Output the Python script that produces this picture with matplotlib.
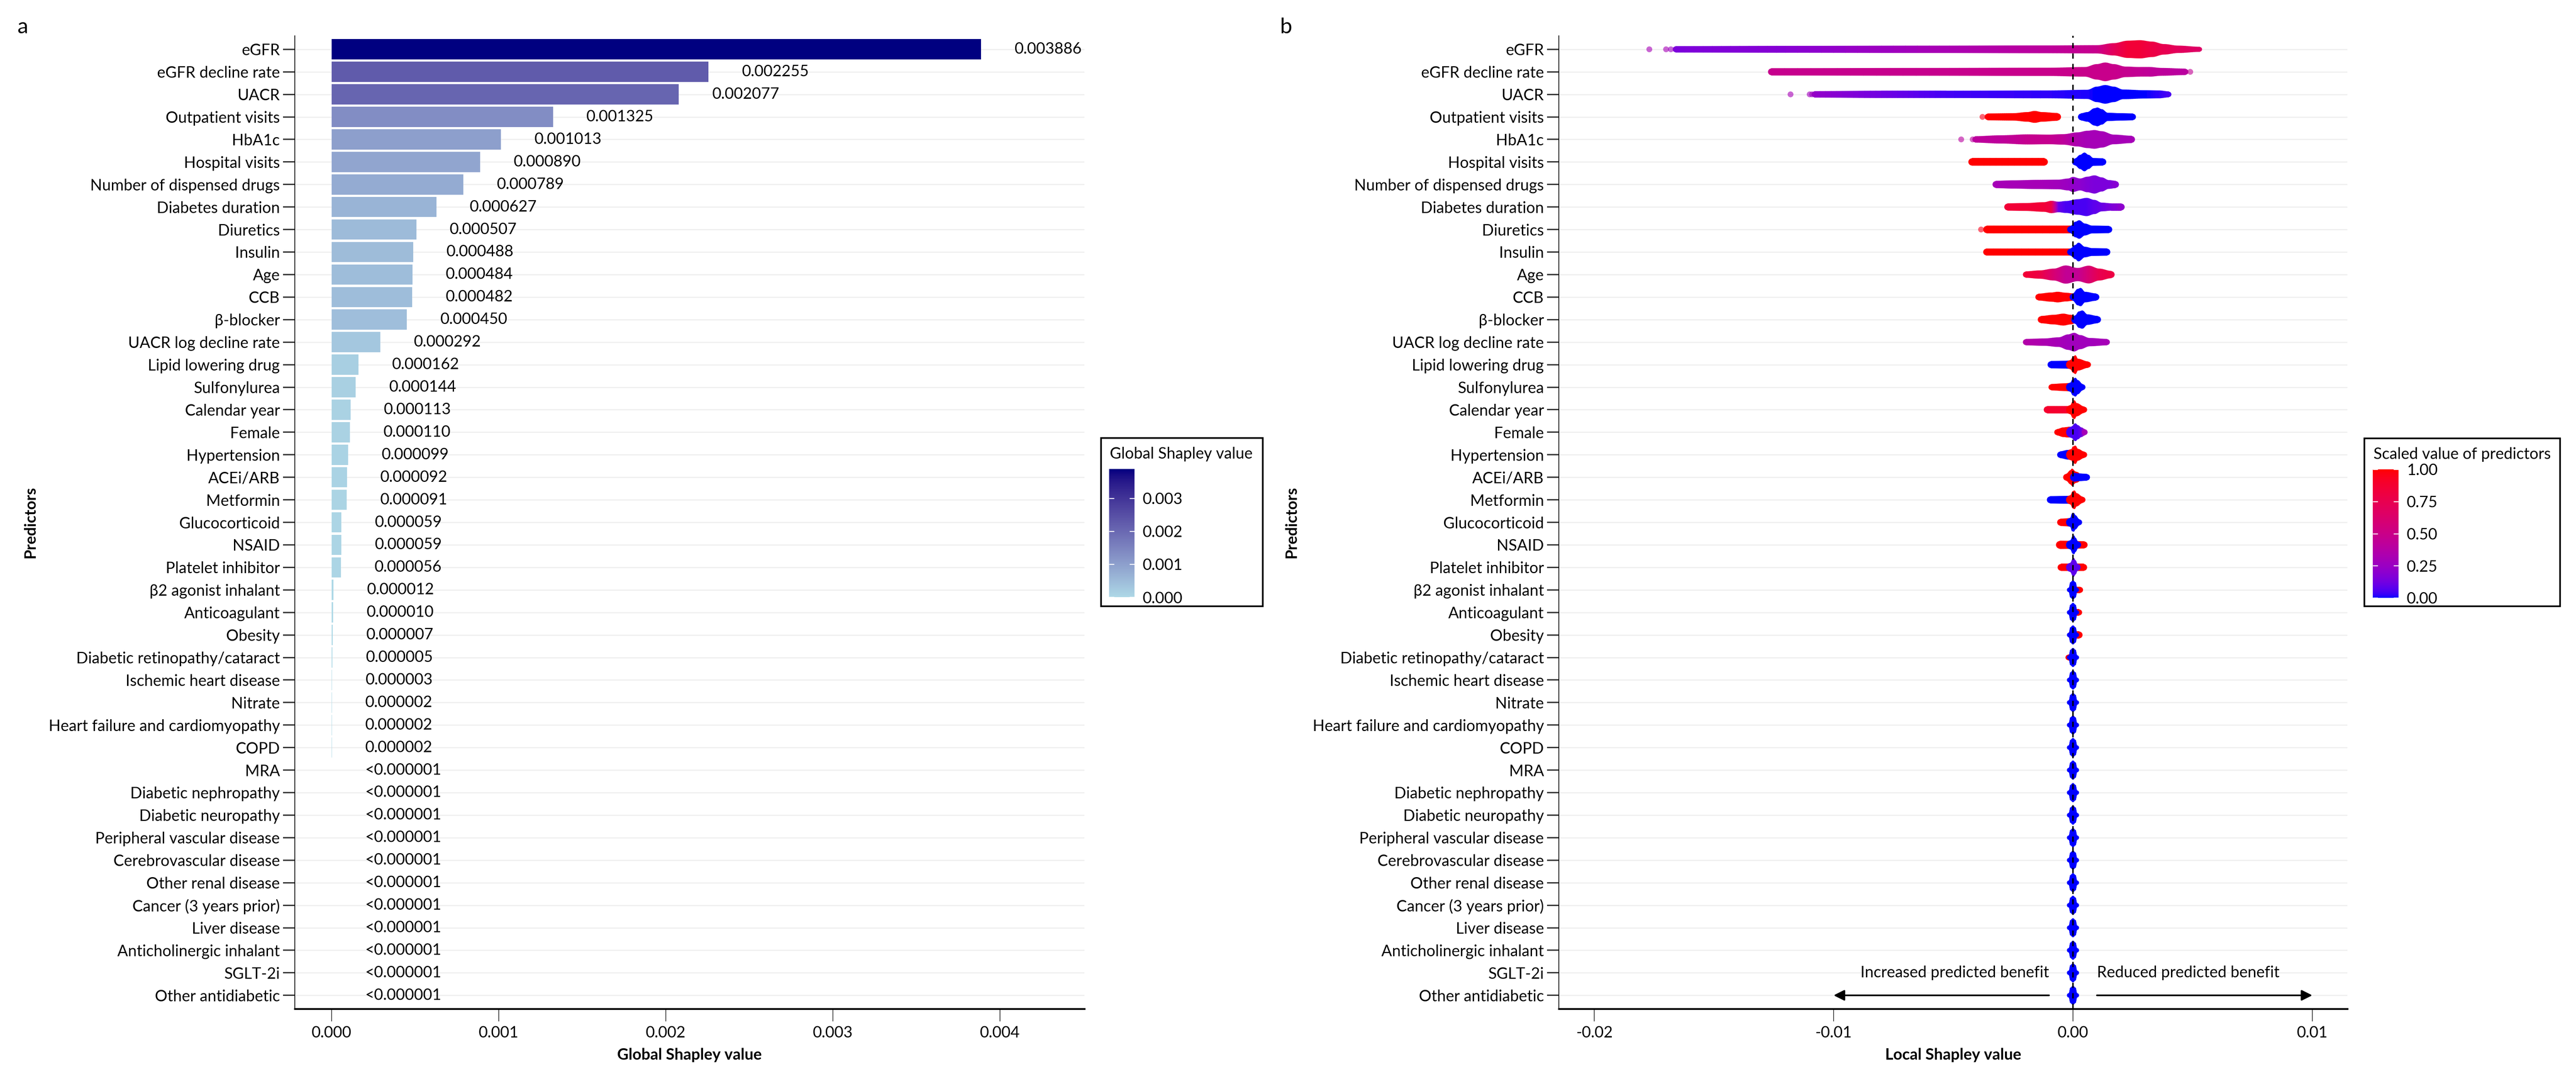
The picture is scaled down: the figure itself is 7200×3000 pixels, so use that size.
import numpy as np
import matplotlib
matplotlib.use('Agg')
import matplotlib.pyplot as plt
import matplotlib.cm as cm
from matplotlib.colors import ListedColormap, Normalize, to_rgb
from matplotlib.collections import PolyCollection
from matplotlib.patches import Rectangle, FancyArrowPatch

plt.rcParams['font.family'] = ['Lato', 'DejaVu Sans']
plt.rcParams['font.size'] = 10.5
plt.rcParams['axes.unicode_minus'] = False

predictors = ['eGFR', 'eGFR decline rate', 'UACR', 'Outpatient visits', 'HbA1c',
              'Hospital visits', 'Number of dispensed drugs', 'Diabetes duration',
              'Diuretics', 'Insulin', 'Age', 'CCB', 'β-blocker', 'UACR log decline rate',
              'Lipid lowering drug', 'Sulfonylurea', 'Calendar year', 'Female',
              'Hypertension', 'ACEi/ARB', 'Metformin', 'Glucocorticoid', 'NSAID',
              'Platelet inhibitor', 'β2 agonist inhalant', 'Anticoagulant', 'Obesity',
              'Diabetic retinopathy/cataract', 'Ischemic heart disease', 'Nitrate',
              'Heart failure and cardiomyopathy', 'COPD', 'MRA', 'Diabetic nephropathy',
              'Diabetic neuropathy', 'Peripheral vascular disease', 'Cerebrovascular disease',
              'Other renal disease', 'Cancer (3 years prior)', 'Liver disease',
              'Anticholinergic inhalant', 'SGLT-2i', 'Other antidiabetic']

# global shapley values (0 means "<0.000001")
global_shap = [0.003886, 0.002255, 0.002077, 0.001325, 0.001013, 0.000890, 0.000789,
               0.000627, 0.000507, 0.000488, 0.000484, 0.000482, 0.000450, 0.000292,
               0.000162, 0.000144, 0.000113, 0.000110, 0.000099, 0.000092, 0.000091,
               0.000059, 0.000059, 0.000056, 0.000012, 0.000010, 0.000007, 0.000005,
               0.000003, 0.000002, 0.000002, 0.000002,
               0, 0, 0, 0, 0, 0, 0, 0, 0, 0, 0]

# local shapley swarm outlines:
# row, x nodes, half height (row units), scaled predictor value at nodes
swarm_row = [0, 1, 2,
             3, 3, 4, 5, 5, 6, 7,
             8, 8, 9, 9, 10, 11, 11, 12, 12, 13,
             14, 14, 15, 15, 16, 16, 17, 17, 18, 18,
             19, 19, 20, 20, 21, 21, 22, 22, 23, 23,
             24, 25, 26, 27, 28, 29]
swarm_x = [
    [-0.0166, -0.012, -0.006, -0.001, 0.0010, 0.0017, 0.0023, 0.0028, 0.0033, 0.0038, 0.0044, 0.0053],
    [-0.0126, -0.006, -0.001, 0.0005, 0.0010, 0.00135, 0.0017, 0.0022, 0.0028, 0.0032, 0.0037, 0.0047],
    [-0.0108, -0.008, -0.0053, -0.001, 0.0006, 0.0010, 0.00135, 0.0017, 0.0021, 0.0030, 0.0036, 0.0040],
    [-0.00356, -0.0025, -0.0019, -0.0016, -0.0013, -0.00065],
    [0.00035, 0.0006, 0.0009, 0.00102, 0.0012, 0.00145, 0.0020, 0.0025],
    [-0.00408, -0.003, -0.0019, -0.0010, -0.0004, 0.0002, 0.0006, 0.0009, 0.0012, 0.0017, 0.00245],
    [-0.00422, -0.0012],
    [0.0001, 0.0003, 0.00048, 0.00065, 0.00085, 0.00125],
    [-0.00322, -0.0025, -0.0015, -0.0006, -0.0002, 0.0, 0.0003, 0.0006, 0.0009, 0.0012, 0.0015, 0.00178],
    [-0.00273, -0.002, -0.0012, -0.0009, -0.0006, -0.0003, 0.0002, 0.00057, 0.0009, 0.0012, 0.0016, 0.00202],
    [-0.0036, -0.0001],
    [-0.0001, 0.0001, 0.00026, 0.0005, 0.0008, 0.0015],
    [-0.00361, -0.0001],
    [-0.0001, 0.0001, 0.00023, 0.0005, 0.0008, 0.00142],
    [-0.00197, -0.0014, -0.0008, -0.0003, 0.0002, 0.00066, 0.0011, 0.0016],
    [-0.00144, -0.0009, -0.00064, -0.0003, 0.0],
    [0.0, 0.0002, 0.00032, 0.0005, 0.00096],
    [-0.00133, -0.0008, -0.0004, -0.0001, 0.0001],
    [0.0001, 0.00025, 0.00039, 0.0006, 0.00103],
    [-0.00197, -0.0012, -0.0006, -0.0002, 0.00005, 0.0003, 0.0007, 0.00142],
    [-0.00092, -0.0003, 0.0],
    [-0.0001, 0.00002, 0.0001, 0.0002, 0.00063],
    [-0.0009, -0.0003, -0.00005],
    [-0.0001, 0.0, 0.0001, 0.0002, 0.0004],
    [-0.00108, -0.0003, -0.00005],
    [-0.0001, 0.0, 0.00006, 0.00015, 0.00047],
    [-0.00066, -0.0004, -0.0002, 0.0],
    [-0.00005, 0.0001, 0.0002, 0.00035, 0.00049],
    [-0.00053, -0.0002, 0.0],
    [-0.00005, 0.0, 0.0001, 0.0002, 0.00047],
    [-0.00027, -0.0001, -0.00004, 0.0001],
    [0.00005, 0.0002, 0.00058],
    [-0.00095, -0.0003, 0.0],
    [-0.0001, 0.0, 0.00006, 0.00015, 0.0004],
    [-0.00052, -0.0001],
    [-0.0001, -0.00003, 0.00003, 0.0001, 0.00026],
    [-0.00055, 0.00047],
    [-0.0001, 0.0, 0.00004, 0.0001, 0.0002],
    [-0.0005, 0.00045],
    [-0.0001, 0.0, 0.00003, 0.0001, 0.00018],
    [0.0, 0.0003],
    [0.0, 0.00026],
    [-0.00008, 0.00026],
    [-0.0002, 0.00005],
    [-0.0001, 0.00012],
    [-0.00008, 0.00008],
]
swarm_h = [
    [0.13, 0.14, 0.15, 0.16, 0.17, 0.26, 0.37, 0.39, 0.33, 0.22, 0.15, 0.10],
    [0.15, 0.16, 0.17, 0.20, 0.33, 0.40, 0.33, 0.22, 0.20, 0.20, 0.16, 0.13],
    [0.13, 0.15, 0.15, 0.16, 0.19, 0.33, 0.40, 0.33, 0.20, 0.17, 0.16, 0.12],
    [0.14, 0.15, 0.20, 0.25, 0.20, 0.16],
    [0.15, 0.20, 0.37, 0.40, 0.33, 0.17, 0.15, 0.14],
    [0.13, 0.17, 0.21, 0.20, 0.22, 0.30, 0.37, 0.40, 0.35, 0.20, 0.15],
    [0.16, 0.16],
    [0.15, 0.30, 0.40, 0.30, 0.16, 0.15],
    [0.15, 0.17, 0.19, 0.20, 0.25, 0.32, 0.25, 0.33, 0.39, 0.30, 0.18, 0.15],
    [0.15, 0.16, 0.20, 0.26, 0.22, 0.25, 0.33, 0.39, 0.30, 0.18, 0.15, 0.15],
    [0.16, 0.16],
    [0.15, 0.33, 0.395, 0.25, 0.16, 0.15],
    [0.15, 0.15],
    [0.15, 0.30, 0.40, 0.22, 0.16, 0.15],
    [0.13, 0.17, 0.25, 0.39, 0.28, 0.38, 0.25, 0.15],
    [0.14, 0.19, 0.22, 0.18, 0.15],
    [0.15, 0.35, 0.39, 0.22, 0.15],
    [0.15, 0.20, 0.25, 0.20, 0.15],
    [0.18, 0.35, 0.39, 0.22, 0.15],
    [0.13, 0.15, 0.20, 0.33, 0.40, 0.30, 0.17, 0.13],
    [0.15, 0.16, 0.18],
    [0.20, 0.35, 0.40, 0.25, 0.13],
    [0.13, 0.16, 0.18],
    [0.20, 0.35, 0.40, 0.30, 0.13],
    [0.15, 0.15, 0.15],
    [0.20, 0.36, 0.40, 0.28, 0.13],
    [0.13, 0.20, 0.22, 0.22],
    [0.25, 0.38, 0.30, 0.20, 0.13],
    [0.14, 0.20, 0.22],
    [0.25, 0.35, 0.39, 0.25, 0.13],
    [0.15, 0.30, 0.37, 0.25],
    [0.18, 0.16, 0.14],
    [0.15, 0.16, 0.17],
    [0.20, 0.37, 0.40, 0.28, 0.13],
    [0.15, 0.17],
    [0.20, 0.38, 0.40, 0.30, 0.13],
    [0.17, 0.15],
    [0.20, 0.38, 0.40, 0.30, 0.15],
    [0.15, 0.15],
    [0.20, 0.37, 0.40, 0.30, 0.15],
    [0.13, 0.13],
    [0.13, 0.13],
    [0.15, 0.15],
    [0.12, 0.12],
    [0.12, 0.12],
    [0.12, 0.12],
]
swarm_c = [
    [0.15, 0.18, 0.30, 0.42, 0.48, 0.70, 0.85, 0.85, 0.80, 0.75, 0.70, 0.65],
    [0.48, 0.48, 0.49, 0.49, 0.49, 0.49, 0.49, 0.47, 0.45, 0.43, 0.42, 0.40],
    [0.22, 0.12, 0.04, 0.02, 0.01, 0.0, 0.0, 0.0, 0.0, 0.0, 0.02, 0.05],
    1.0,
    0.0,
    [0.42, 0.42, 0.47, 0.47, 0.42, 0.33, 0.30, 0.30, 0.30, 0.30, 0.30],
    1.0,
    0.0,
    [0.30, 0.30, 0.30, 0.28, 0.25, 0.22, 0.20, 0.17, 0.15, 0.15, 0.15, 0.18],
    [0.85, 0.85, 0.85, 0.80, 0.10, 0.05, 0.05, 0.05, 0.08, 0.10, 0.15, 0.20],
    1.0,
    0.0,
    1.0,
    0.0,
    [0.85, 0.80, 0.60, 0.45, 0.45, 0.60, 0.75, 0.80],
    1.0,
    0.0,
    1.0,
    0.0,
    [0.36, 0.33, 0.30, 0.28, 0.28, 0.28, 0.28, 0.30],
    0.0, 1.0,
    1.0, 0.0,
    0.88, 1.0,
    1.0, [0.05, 0.05, 0.05, 0.10, 0.30],
    0.0, 1.0,
    1.0, 0.0,
    0.0, 1.0,
    1.0, 0.0,
    1.0, 0.0,
    1.0, 0.08,
    1.0, 1.0, 1.0, 1.0, 1.0, 1.0,
]

# narrow blue spindle at zero shared by the weakest predictors (rows 24-42)
centre_rows = list(range(24, 43))
centre_x = [-0.00016, -0.0001, 0.0, 0.0001, 0.00016]
centre_h = [0.10, 0.33, 0.41, 0.33, 0.10]
centre_c = 0.0

# isolated extreme points
dot_row = [0, 0, 0, 1, 2, 2, 2, 3, 4, 4, 8]
dot_x = [-0.0177, -0.0170, -0.0168, 0.0049, -0.0118, -0.0110, -0.0109, -0.00378, -0.00467, -0.00419, -0.00384]
dot_c = [0.30, 0.30, 0.25, 0.45, 0.30, 0.28, 0.25, 0.95, 0.40, 0.40, 0.95]

W, H = 7200, 3000
DPI = 300

M_RGB = np.array([[0.4124, 0.3576, 0.1805], [0.2126, 0.7152, 0.0722], [0.0193, 0.1192, 0.9505]])
WHITE = np.array([0.95047, 1.0, 1.08883])


def to_lab(col):
    rgb = np.array(to_rgb(col))
    lin = np.where(rgb <= 0.04045, rgb / 12.92, ((rgb + 0.055) / 1.055) ** 2.4)
    xyz = M_RGB @ lin / WHITE
    d = 6 / 29
    f = np.where(xyz > d ** 3, np.cbrt(xyz), xyz / (3 * d * d) + 4 / 29)
    return np.array([116 * f[1] - 16, 500 * (f[0] - f[1]), 200 * (f[1] - f[2])])


def from_lab(lab):
    d = 6 / 29
    fy = (lab[0] + 16) / 116
    f = np.array([fy + lab[1] / 500, fy, fy - lab[2] / 200])
    xyz = np.where(f > d, f ** 3, 3 * d * d * (f - 4 / 29)) * WHITE
    lin = np.clip(np.linalg.solve(M_RGB, xyz), 0, 1)
    rgb = np.where(lin <= 0.0031308, 12.92 * lin, 1.055 * lin ** (1 / 2.4) - 0.055)
    return np.clip(rgb, 0, 1)


def lab_cmap(low, high, n=256):
    a, b = to_lab(low), to_lab(high)
    return ListedColormap([from_lab(a + (b - a) * t) for t in np.linspace(0, 1, n)])


cmap_g = lab_cmap('lightblue', 'navy')
cmap_l = lab_cmap('blue', 'red')
norm_g = Normalize(0, max(global_shap))

n = len(predictors)
rows = np.arange(n)
fig = plt.figure(figsize=(W / DPI, H / DPI), dpi=DPI)


def fx(px):
    return px / W


def fy(py):
    return 1 - py / H


def style_axes(ax):
    ax.set_ylim(n - 1 + 0.6, -0.6)
    ax.set_yticks(rows)
    ax.set_yticklabels(predictors)
    for s in ['top', 'right']:
        ax.spines[s].set_visible(False)
    ax.spines['left'].set_linewidth(0.5)
    ax.spines['bottom'].set_linewidth(1.2)
    ax.tick_params(axis='y', length=8, width=0.9, color='#333333', pad=2)
    ax.tick_params(axis='x', length=8.4, width=0.5, color='#333333', pad=3)
    ax.set_axisbelow(True)
    ax.yaxis.grid(True, color='#EFEFEF', lw=0.8)
    ax.xaxis.grid(False)
    ax.set_ylabel('Predictors', fontweight='bold')


# ---- a: global shapley bars
ax1 = fig.add_axes([fx(824), fy(2818), fx(3031 - 824), (2818 - 100) / H])
ax1.barh(rows, global_shap, height=0.9, color=cmap_g(norm_g(np.array(global_shap))), zorder=2)
for i, v in enumerate(global_shap):
    lab = f'{v:.6f}' if v >= 1e-6 else '<0.000001'
    ax1.text(v + 0.0002, i, lab, va='center', ha='left')
ax1.set_xlim(-0.00022, 0.004505)
ax1.set_xticks([0, 0.001, 0.002, 0.003, 0.004])
ax1.set_xticklabels(['0.000', '0.001', '0.002', '0.003', '0.004'])
style_axes(ax1)
ax1.set_xlabel('Global Shapley value', fontweight='bold', labelpad=5)
ax1.yaxis.set_label_coords(-0.326, 0.5)

# ---- b: local shapley swarm
ax2 = fig.add_axes([fx(4357), fy(2818), fx(6561 - 4357), (2818 - 100) / H])
ax2.set_xlim(-0.02148, 0.011465)
style_axes(ax2)
ax2.yaxis.set_label_coords(-0.33, 0.5)
ax2.set_xticks([-0.02, -0.01, 0.0, 0.01])
ax2.set_xticklabels(['-0.02', '-0.01', '0.00', '0.01'])
ax2.set_xlabel('Local Shapley value', fontweight='bold', labelpad=5)

row_pt = ax2.get_position().height * H / (n + 0.2) * 72 / DPI


def draw_piece(ax, r, xs, hs, cs):
    xs = np.asarray(xs, float)
    hs = np.asarray(hs, float)
    cs = np.broadcast_to(np.asarray(cs, float), xs.shape)
    px, ph, pc = [], [], []
    for i in range(len(xs) - 1):
        t = np.linspace(0, 1, 13)[:-1]
        w = (1 - np.cos(np.pi * t)) / 2
        px += list(xs[i] + (xs[i + 1] - xs[i]) * t)
        ph += list(hs[i] + (hs[i + 1] - hs[i]) * w)
        pc += list(cs[i] + (cs[i + 1] - cs[i]) * t)
    px.append(xs[-1]); ph.append(hs[-1]); pc.append(cs[-1])
    quads, cols = [], []
    for k in range(len(px) - 1):
        quads.append([(px[k], r - ph[k]), (px[k + 1], r - ph[k + 1]),
                      (px[k + 1], r + ph[k + 1]), (px[k], r + ph[k])])
        cols.append(cmap_l((pc[k] + pc[k + 1]) / 2))
    ax.add_collection(PolyCollection(quads, facecolors=cols, edgecolors=cols,
                                     linewidths=0.4, zorder=3))
    ax.scatter([xs[0], xs[-1]], [r, r], s=[(2 * hs[0] * row_pt) ** 2, (2 * hs[-1] * row_pt) ** 2],
               c=[cmap_l(cs[0]), cmap_l(cs[-1])], edgecolors='none', zorder=3)


for r, xs, hs, cs in zip(swarm_row, swarm_x, swarm_h, swarm_c):
    draw_piece(ax2, r, xs, hs, cs)
for r in centre_rows:
    draw_piece(ax2, r, centre_x, centre_h, centre_c)

ax2.scatter(dot_x, dot_row, s=(0.26 * row_pt) ** 2, c=cmap_l(np.array(dot_c)),
            alpha=0.6, edgecolors='none', zorder=3)

ax2.axvline(0, color='black', lw=1.0, ls=(0, (3.5, 3.5)), zorder=5)

ax2.text(-0.001, n - 2, 'Increased predicted benefit', ha='right', va='center')
ax2.text(0.001, n - 2, 'Reduced predicted benefit', ha='left', va='center')
for x0, x1 in [(-0.001, -0.01), (0.001, 0.01)]:
    ax2.add_patch(FancyArrowPatch((x0, n - 1), (x1, n - 1), arrowstyle='-|>,head_length=0.3,head_width=0.15',
                                  mutation_scale=20, lw=1.1, color='black', shrinkA=0, shrinkB=0, zorder=6))

# ---- colour legends


def legend_box(box, bar, title, cmap, norm, ticks, labels):
    x0, y0, x1, y1 = box
    fig.add_artist(Rectangle((fx(x0), fy(y1)), fx(x1 - x0), (y1 - y0) / H,
                             transform=fig.transFigure, fill=False, ec='black', lw=1.1))
    fig.text(fx(bar[0] + 2), fy(y0 + 45), title, va='center', ha='left')
    cax = fig.add_axes([fx(bar[0]), fy(bar[3]), fx(bar[2] - bar[0]), (bar[3] - bar[1]) / H])
    cb = fig.colorbar(cm.ScalarMappable(norm=norm, cmap=cmap), cax=cax, ticks=ticks)
    cb.outline.set_visible(False)
    cax.tick_params(length=0, pad=5.5)
    cax.set_yticklabels(labels)
    tr = cax.get_yaxis_transform()
    cax.hlines(ticks, 0, 0.2, colors='white', lw=0.6, transform=tr)
    cax.hlines(ticks, 0.8, 1, colors='white', lw=0.6, transform=tr)


legend_box((3077, 1223, 3529, 1693), (3100, 1310, 3171, 1668), 'Global Shapley value',
           cmap_g, norm_g, [0, 0.001, 0.002, 0.003], ['0.000', '0.001', '0.002', '0.003'])
legend_box((6608, 1224, 7155, 1693), (6632, 1311, 6704, 1670), 'Scaled value of predictors',
           cmap_l, Normalize(0, 1), [0, 0.25, 0.5, 0.75, 1], ['0.00', '0.25', '0.50', '0.75', '1.00'])

fig.text(fx(49), fy(93), 'a', fontsize=14.5, va='baseline')
fig.text(fx(3578), fy(93), 'b', fontsize=14.5, va='baseline')

fig.savefig('out.png', dpi=DPI)
